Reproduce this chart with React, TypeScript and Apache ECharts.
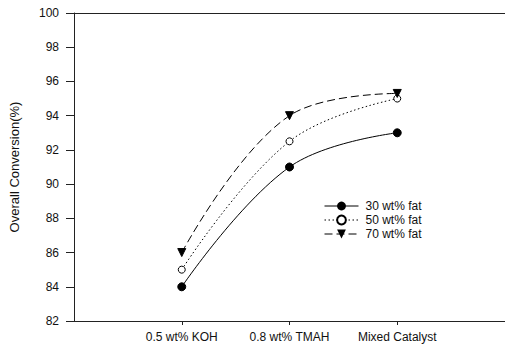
import React, { useEffect, useRef } from "react";
import * as echarts from "echarts";

const categories = ["0.5 wt% KOH", "0.8 wt% TMAH", "Mixed Catalyst"];
const fat30 = [84, 91, 93];
const fat50 = [85, 92.5, 95];
const fat70 = [86, 94, 95.3];
const seriesNames = ["30 wt% fat", "50 wt% fat", "70 wt% fat"];
const yTicks = { min: 82, max: 100, interval: 2 };

export default function App() {
  const ref = useRef<HTMLDivElement>(null);
  useEffect(() => {
    const chart = echarts.init(ref.current!, null, { renderer: "svg" });
    const cats = ["", ...categories, ""];
    const pad = (arr: number[]) => [null, ...arr, null];
    const font = "Liberation Sans, Arial, sans-serif";
    chart.setOption({
      animation: false,
      textStyle: { fontFamily: font },
      grid: { left: 67, top: 13, width: 442, height: 308, show: false },
      legend: {
        orient: "vertical",
        left: 319,
        top: 195,
        itemWidth: 34,
        itemHeight: 11,
        itemGap: 2,
        lineStyle: { width: 1 },
        textStyle: { fontSize: 12, color: "#111", fontFamily: font, padding: [0, 0, 0, 2] },
        data: seriesNames,
      },
      xAxis: [
        {
          type: "category",
          data: cats,
          boundaryGap: false,
          axisLine: { lineStyle: { color: "#222", width: 1 } },
          axisTick: { length: 4, interval: (i: number) => i >= 1 && i <= 3, lineStyle: { color: "#222" } },
          axisLabel: { interval: (i: number) => i >= 1 && i <= 3, fontSize: 12, color: "#111", margin: 10, fontFamily: font },
          splitLine: { show: false },
        },
        {
          type: "category",
          data: cats,
          position: "top",
          boundaryGap: false,
          axisLine: { show: true, lineStyle: { color: "#222", width: 1 } },
          axisTick: { show: false },
          axisLabel: { show: false },
          splitLine: { show: false },
        },
      ],
      yAxis: {
        type: "value",
        min: yTicks.min,
        max: yTicks.max,
        interval: yTicks.interval,
        name: "Overall Conversion(%)",
        nameLocation: "middle",
        nameGap: 53,
        nameTextStyle: { fontSize: 13, color: "#111", fontFamily: font },
        axisLine: { show: true, lineStyle: { color: "#222", width: 1 } },
        axisTick: { show: true, length: 8, lineStyle: { color: "#222" } },
        axisLabel: { fontSize: 12, color: "#111", margin: 15, fontFamily: font },
        splitLine: { show: false },
      },
      series: [
        {
          name: seriesNames[0],
          type: "line",
          data: pad(fat30),
          smooth: 0.4,
          symbol: "circle",
          symbolSize: 8,
          itemStyle: { color: "#000", borderColor: "#000" },
          lineStyle: { color: "#000", width: 1, type: "solid" },
        },
        {
          name: seriesNames[1],
          type: "line",
          data: pad(fat50),
          smooth: 0.4,
          symbol: "circle",
          symbolSize: 7,
          itemStyle: { color: "#fff", borderColor: "#000", borderWidth: 1 },
          lineStyle: { color: "#000", width: 1, type: [1.5, 2.5] },
        },
        {
          name: seriesNames[2],
          type: "line",
          data: pad(fat70),
          smooth: 0.4,
          symbol: "triangle",
          symbolRotate: 180,
          symbolSize: 8,
          itemStyle: { color: "#000", borderColor: "#000" },
          lineStyle: { color: "#000", width: 1, type: [8, 4] },
        },
      ],
    });
    return () => chart.dispose();
  }, []);
  return <div ref={ref} style={{ width: 505, height: 345, position: "absolute", left: 0, top: 0, background: "#fff" }} />;
}
